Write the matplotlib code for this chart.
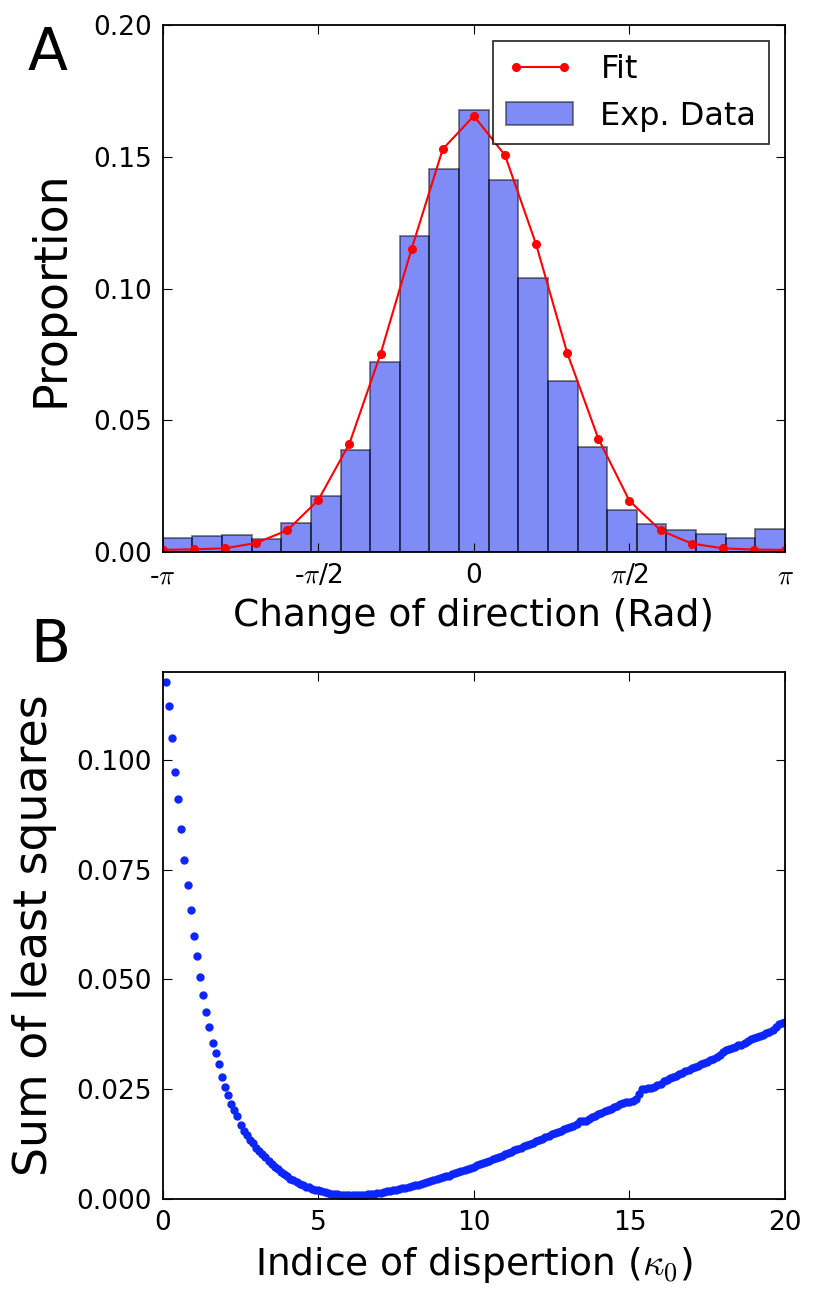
import numpy as np
import matplotlib
matplotlib.use("Agg")
import matplotlib.pyplot as plt

plt.rcParams['font.family'] = ['DejaVu Sans']
plt.rcParams['mathtext.fontset'] = 'cm'
plt.rcParams['xtick.direction'] = 'in'
plt.rcParams['ytick.direction'] = 'in'
plt.rcParams['xtick.top'] = True
plt.rcParams['ytick.right'] = True
plt.rcParams['xtick.major.size'] = 6.5
plt.rcParams['ytick.major.size'] = 6.5
plt.rcParams['xtick.major.pad'] = 8
plt.rcParams['ytick.major.pad'] = 8

# panel A: histogram of turning angles (21 bins over [-pi, pi])
hist_props = [0.0055, 0.0060, 0.0065, 0.0052, 0.0110, 0.0214, 0.0389, 0.0720,
              0.1200, 0.1452, 0.1678, 0.1411, 0.1042, 0.0649, 0.0399, 0.0160,
              0.0106, 0.0086, 0.0071, 0.0055, 0.0089]
# fitted curve sampled every pi/10
fit_props = [0.0009, 0.0011, 0.0015, 0.0035, 0.0083, 0.0198, 0.0412, 0.0752,
             0.1151, 0.1529, 0.1655, 0.1506, 0.1168, 0.0756, 0.0431, 0.0195,
             0.0083, 0.0033, 0.0015, 0.0010, 0.0009]
angle_ticklabels = [r'-$\pi$', r'-$\pi$/2', '0', r'$\pi$/2', r'$\pi$']

# panel B: least squares vs kappa0 (0.1 .. 20.0)
kappa = np.linspace(0.1, 20.0, 200)
lsq = [
    0.1176, 0.1123, 0.1050, 0.0972, 0.0911, 0.0843, 0.0771, 0.0715, 0.0659, 0.0598,
    0.0554, 0.0505, 0.0465, 0.0426, 0.0392, 0.0355, 0.0333, 0.0307, 0.0277, 0.0256,
    0.0238, 0.0217, 0.0202, 0.0189, 0.0168, 0.0156, 0.0146, 0.0135, 0.0127, 0.0117,
    0.0110, 0.0102, 0.0095, 0.0088, 0.0081, 0.0074, 0.0068, 0.0062, 0.0057, 0.0052,
    0.0047, 0.0043, 0.0039, 0.0035, 0.0032, 0.0029, 0.0027, 0.0024, 0.0022, 0.0020,
    0.0018, 0.0016, 0.0014, 0.0013, 0.0012, 0.0011, 0.0010, 0.0010, 0.0009, 0.0009,
    0.0009, 0.0009, 0.0009, 0.0010, 0.0010, 0.0011, 0.0012, 0.0013, 0.0014, 0.0015,
    0.0017, 0.0018, 0.0019, 0.0021, 0.0022, 0.0023, 0.0025, 0.0026, 0.0028, 0.0030,
    0.0032, 0.0033, 0.0035, 0.0037, 0.0039, 0.0041, 0.0043, 0.0045, 0.0048, 0.0050,
    0.0052, 0.0054, 0.0057, 0.0059, 0.0061, 0.0064, 0.0066, 0.0069, 0.0071, 0.0073,
    0.0077, 0.0080, 0.0083, 0.0084, 0.0087, 0.0091, 0.0094, 0.0096, 0.0099, 0.0103,
    0.0106, 0.0108, 0.0111, 0.0114, 0.0117, 0.0120, 0.0123, 0.0126, 0.0129, 0.0132,
    0.0135, 0.0138, 0.0141, 0.0144, 0.0148, 0.0150, 0.0152, 0.0156, 0.0159, 0.0162,
    0.0165, 0.0166, 0.0171, 0.0179, 0.0178, 0.0177, 0.0183, 0.0187, 0.0189, 0.0193,
    0.0196, 0.0200, 0.0203, 0.0205, 0.0210, 0.0213, 0.0216, 0.0219, 0.0221, 0.0222,
    0.0224, 0.0228, 0.0240, 0.0250, 0.0251, 0.0252, 0.0254, 0.0256, 0.0259, 0.0263,
    0.0269, 0.0272, 0.0275, 0.0277, 0.0281, 0.0285, 0.0288, 0.0291, 0.0295, 0.0298,
    0.0301, 0.0304, 0.0308, 0.0311, 0.0313, 0.0317, 0.0320, 0.0324, 0.0328, 0.0334,
    0.0339, 0.0342, 0.0345, 0.0347, 0.0350, 0.0352, 0.0356, 0.0361, 0.0364, 0.0366,
    0.0368, 0.0371, 0.0373, 0.0378, 0.0381, 0.0385, 0.0391, 0.0398, 0.0401, 0.0404,
]

fig = plt.figure(figsize=(8.14, 13.0), dpi=100)
axA = fig.add_axes([0.1999, 0.5752, 0.7645, 0.4056])
axB = fig.add_axes([0.1999, 0.0775, 0.7645, 0.4058])

# --- A ---
edges = np.linspace(-np.pi, np.pi, len(hist_props) + 1)
axA.bar(edges[:-1], hist_props, width=np.diff(edges), align='edge',
        facecolor=(0.0, 0.1, 0.95, 0.5), edgecolor=(0.0, 0.0, 0.0, 0.5),
        linewidth=1.3, label='Exp. Data')
fit_x = np.linspace(-np.pi, np.pi, len(fit_props))
axA.plot(fit_x, fit_props, 'r-o', lw=1.5, ms=5.5, mec='r', label='Fit')
axA.set_xlim(-np.pi, np.pi)
axA.set_ylim(0, 0.20)
axA.set_xticks(np.linspace(-np.pi, np.pi, 5))
axA.set_xticklabels(angle_ticklabels)
axA.set_yticks(np.arange(0, 0.201, 0.05))
axA.set_yticklabels(['%.2f' % v for v in np.arange(0, 0.201, 0.05)])
axA.tick_params(labelsize=19)
axA.set_xlabel('Change of direction (Rad)', fontsize=27, labelpad=6)
axA.set_ylabel('Proportion', fontsize=33, labelpad=14)
leg = axA.legend(loc='upper right', fontsize=23, numpoints=2, fancybox=False,
                 borderaxespad=0.5, handlelength=2.1, handletextpad=0.85)
leg.get_frame().set_edgecolor('k')
leg.get_frame().set_linewidth(1.3)

# --- B ---
axB.plot(kappa, lsq, 'o', color=(0.05, 0.15, 1.0), ms=5, mec=(0.05, 0.15, 1.0),
         ls='none')
axB.set_xlim(0, 20)
axB.set_ylim(0, 0.12)
axB.set_xticks([0, 5, 10, 15, 20])
yt = np.arange(0, 0.101, 0.025)
axB.set_yticks(yt)
axB.set_yticklabels(['%.3f' % v for v in yt])
axB.tick_params(labelsize=19)
axB.set_xlabel(r'Indice of dispertion ($\kappa_0$)', fontsize=27, labelpad=6)
axB.set_ylabel('Sum of least squares', fontsize=33, labelpad=14)

for ax in (axA, axB):
    for s in ax.spines.values():
        s.set_linewidth(1.3)

fig.text(0.034, 0.9465, 'A', fontsize=42)
fig.text(0.037, 0.4905, 'B', fontsize=42)

fig.savefig('out.png', dpi=100)
